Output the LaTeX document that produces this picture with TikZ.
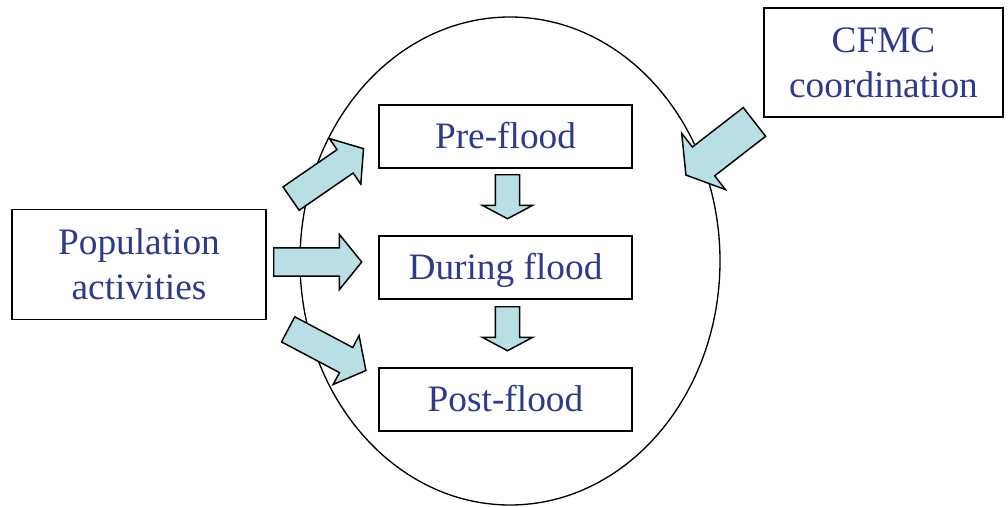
\documentclass[tikz,border=0pt]{standalone}
\usepackage{fontspec}
\setmainfont{Liberation Serif}
\usetikzlibrary{shapes.arrows}

\definecolor{labelblue}{RGB}{46,58,140}
\definecolor{arrowfill}{RGB}{184,224,228}

\tikzset{
  textbox/.style={draw, line width=1.2pt, fill=white, text=labelblue,
    font=\fontsize{28}{34}\selectfont, align=center, inner sep=0pt},
  stagebox/.style={textbox, minimum width=189.75pt, minimum height=47.25pt,
    text height=19pt, text depth=0.5pt},
  blockarrow/.style={single arrow, draw, line width=1.1pt, fill=arrowfill,
    anchor=tail, inner sep=10.1pt, single arrow head extend=10.1pt,
    single arrow tip angle=102, minimum height=66pt},
  downarrow/.style={blockarrow, rotate=-90, inner sep=8.6pt,
    single arrow head extend=9.75pt, single arrow tip angle=124, minimum height=33pt},
}

\begin{document}
\begin{tikzpicture}[x=0.75pt,y=-0.75pt]
                \useasboundingbox (0,0) rectangle (1008,507);
                % Ellipse
                \draw[line width=1pt] (510,261) ellipse [x radius=210, y radius=244];
                % Stages
                \node[stagebox] (pre) at (505.5,136.5) {Pre-flood};
                \node[stagebox] (during) at (505.5,267.5) {During flood};
                \node[stagebox] (post) at (505.5,399.5) {Post-flood};
                % Outside boxes
                \node[textbox, minimum width=190.5pt, minimum height=82.5pt] (population) at (139,264.5) {Population\\activities};
                \node[textbox, minimum width=179.25pt, minimum height=81.75pt] (cfmc) at (883.5,62.5) {CFMC\\coordination};
                % Arrows from population activities (placed by their tails)
                \node[blockarrow, rotate=34.6] (popup) at (290.5,199) {};
                \node[blockarrow] (popmid) at (273,262) {};
                \node[blockarrow, rotate=-27.9] (popdown) at (287.5,329) {};
                % Arrow from CFMC
                \node[blockarrow, rotate=217.8, inner sep=13.1pt, single arrow head extend=13.1pt,
                  single arrow tip angle=116, minimum height=65pt] (cfmcin) at (755,121.5) {};
                % Arrows between stages
                \node[downarrow] (predown) at (507.5,174) {};
                \node[downarrow] (duringdown) at (507.5,306) {};
\end{tikzpicture}
\end{document}
